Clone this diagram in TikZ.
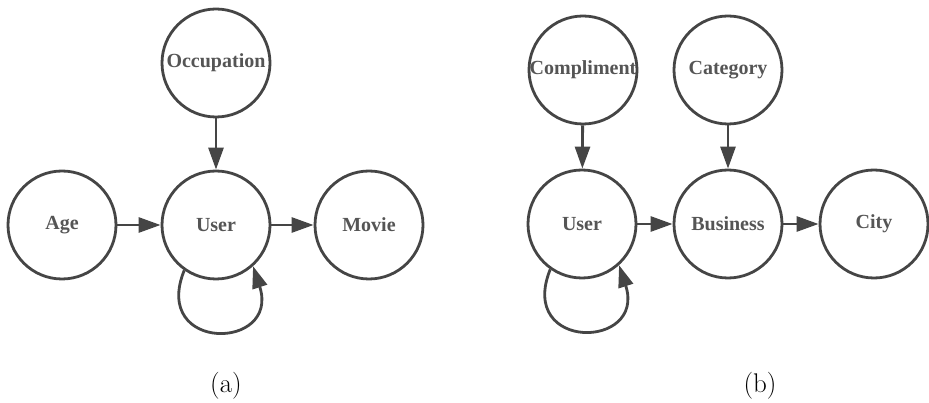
\documentclass[tikz,border=0pt]{standalone}
\usepackage{fontspec}
\newfontfamily\labelfont{Liberation Serif}
\usetikzlibrary{arrows.meta}
\definecolor{linegray}{HTML}{454545}
\definecolor{textgray}{HTML}{555555}

\begin{document}
\begin{tikzpicture}[x=1pt, y=-1pt,
    state/.style={circle, draw=linegray, line width=2.8pt, minimum size=108pt,
      inner sep=0pt, text=textgray, font=\labelfont\bfseries\fontsize{20}{24}\selectfont},
    link/.style={draw=linegray, line width=2.8pt, -{Triangle[length=22pt, width=15pt]}},
    caption/.style={font=\fontsize{27}{31}\selectfont}]
  \useasboundingbox (0,0) rectangle (929,403);

  % (a) user -- movie graph
  \node[state] (occ)   at (216,63)  {Occupation};
  \node[state] (user)  at (216,225) {User};
  \node[state] (age)   at (62,225)  {Age};
  \node[state] (movie) at (369,225) {Movie};

  \draw[link] (occ) -- (user);
  \draw[link] (age) -- (user);
  \draw[link] (user) -- (movie);
  \draw[link] (user.235) to[out=248, in=288, looseness=3.3] (user.312);

  \node[caption] (capa) at (226,386) {(a)};

  % (b) user -- business graph
  \node[state] (comp)  at (583,70)  {Compliment};
  \node[state] (cat)   at (728,70)  {Category};
  \node[state] (ubiz)  at (582,224) {User};
  \node[state] (biz)   at (728,224) {Business};
  \node[state] (city)  at (874,224) {City};

  \draw[link] (comp) -- (ubiz);
  \draw[link] (cat) -- (biz);
  \draw[link] (ubiz) -- (biz);
  \draw[link] (biz) -- (city);
  \draw[link] (ubiz.235) to[out=248, in=288, looseness=3.3] (ubiz.312);

  \node[caption] (capb) at (760,386) {(b)};
\end{tikzpicture}
\end{document}
